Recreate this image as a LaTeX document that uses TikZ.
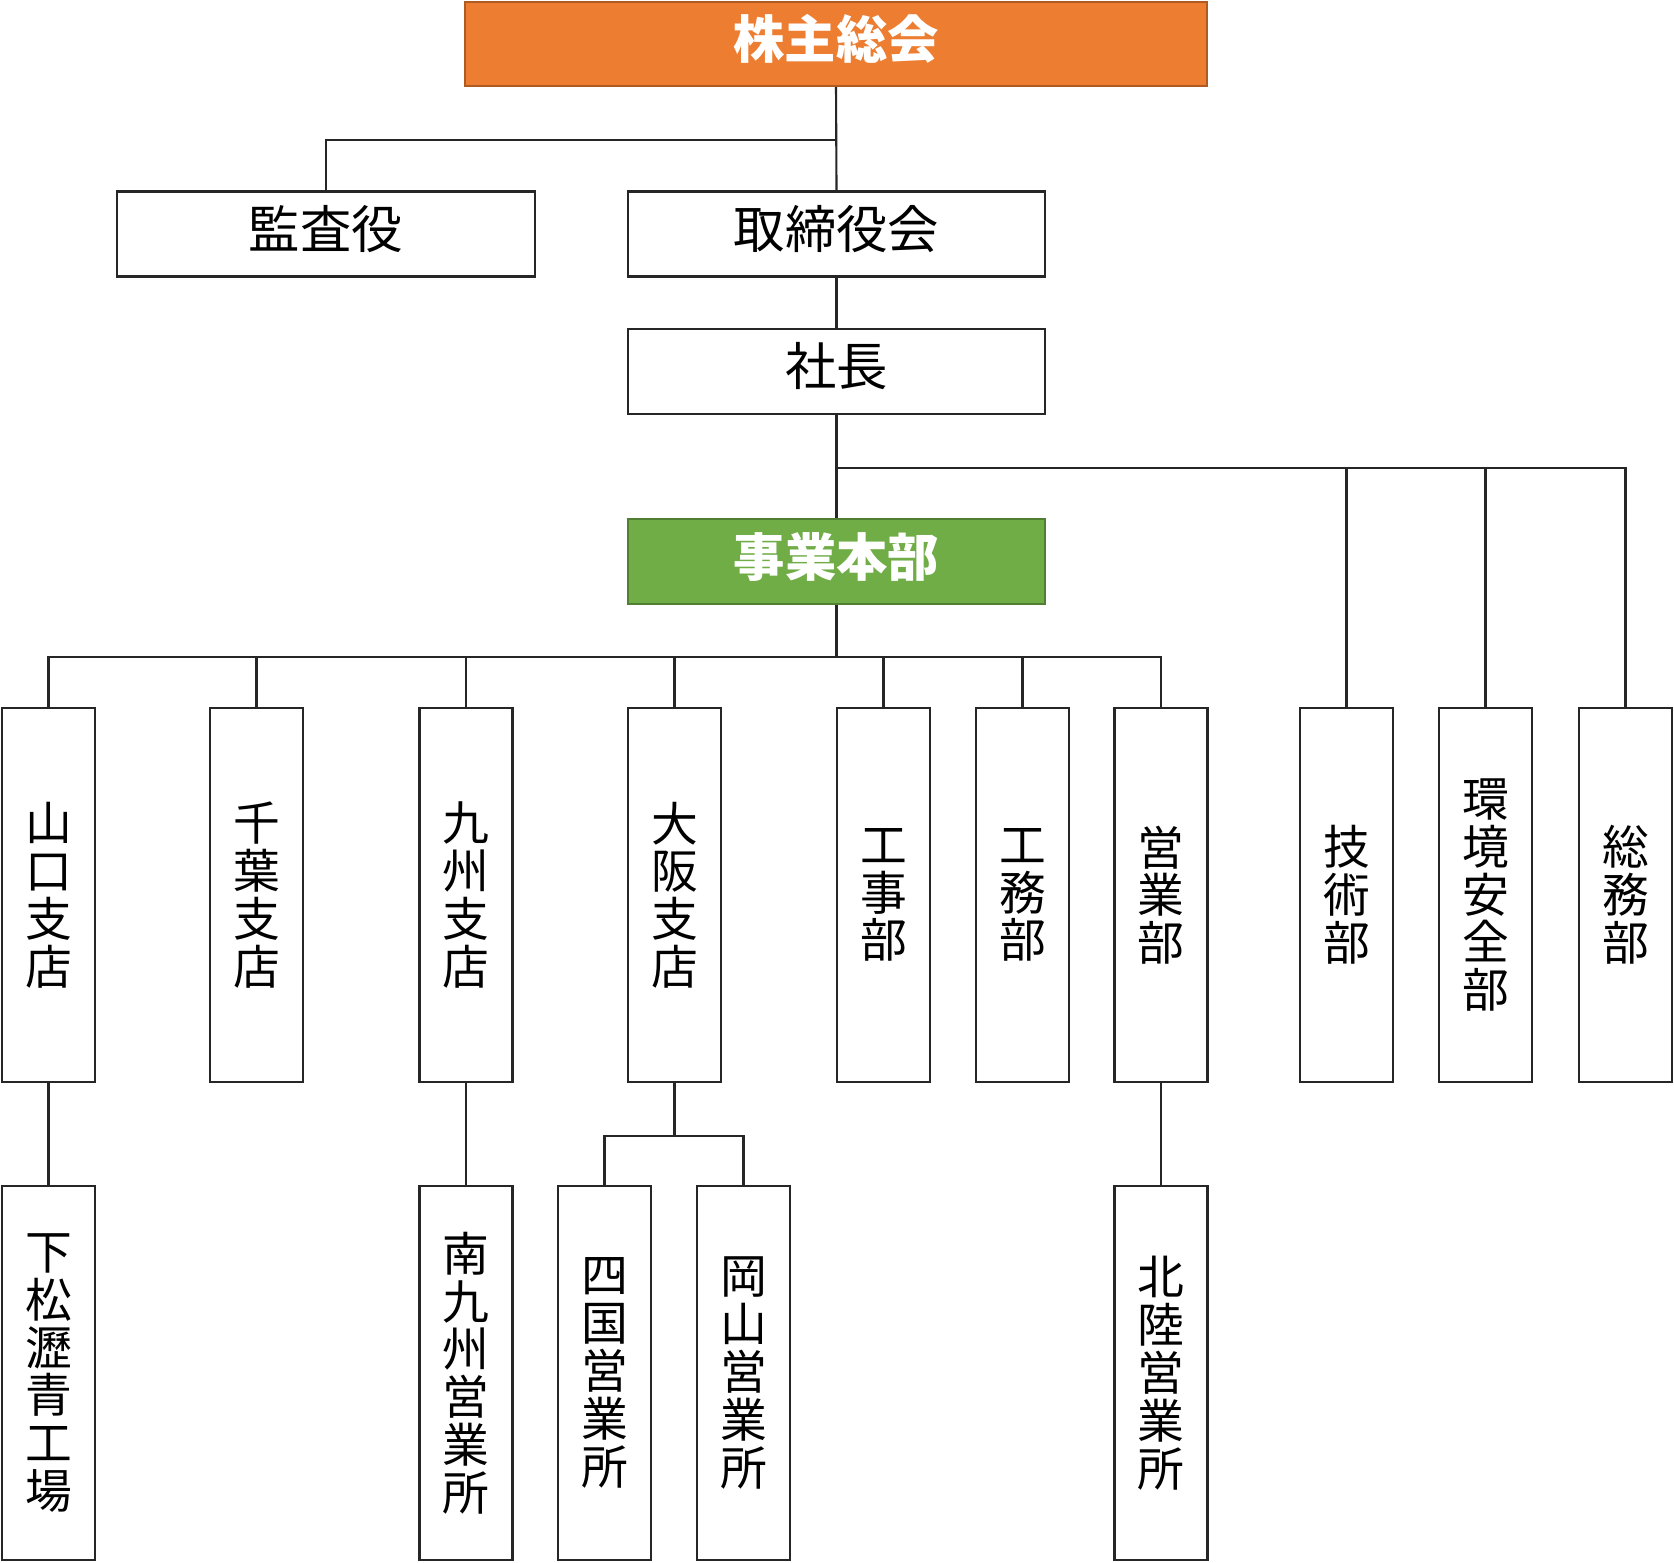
\documentclass[tikz,border=0pt]{standalone}
\usepackage{fontspec}
\newfontfamily\jpfont{Noto Sans CJK JP}
\usepackage{xcolor}
\usepackage{tikz}
\usetikzlibrary{positioning}
\definecolor{agmFill}{HTML}{ED7D31}
\definecolor{agmEdge}{HTML}{AE5A21}
\definecolor{hqFill}{HTML}{70AD47}
\definecolor{hqEdge}{HTML}{507E32}
\tikzset{
  unit/.style = {rectangle, draw=black!85, line width=0.6pt, fill=white, inner sep=0pt, text depth=0.15cm, minimum width=4.17cm, minimum height=0.85cm, font=\jpfont\fontsize{14.6}{16}\selectfont},
  unitv/.style = {rectangle, draw=black!85, line width=0.6pt, fill=white, inner sep=0pt, minimum width=0.93cm, minimum height=3.74cm, align=center, font=\jpfont\fontsize{13.3}{13.6}\selectfont},
  wire/.style = {black!85, line width=0.6pt},
}

\begin{document}
\begin{tikzpicture}[x=0.01cm,y=-0.01cm]
  \useasboundingbox (0,0) rectangle (1674,1562);

  \node[unit, fill=agmFill, draw=agmEdge, text=white, minimum width=7.42cm, minimum height=0.84cm, font=\jpfont\bfseries\fontsize{14.6}{16}\selectfont] (agm) at (836, 44) {株主総会};
  \node[unit] (kansa) at (326, 234) {監査役};
  \node[unit] (board) at (836.5, 234) {取締役会};
  \node[unit] (pres) at (836.5, 371.5) {社長};
  \node[unit, fill=hqFill, draw=hqEdge, text=white, font=\jpfont\bfseries\fontsize{14.6}{16}\selectfont] (hq) at (836.5, 561.5) {事業本部};

  \foreach \n/\t/\x in {
    yamaguchi/{山\\口\\支\\店}/48.5,
    chiba/{千\\葉\\支\\店}/256.5,
    kyushu/{九\\州\\支\\店}/466,
    osaka/{大\\阪\\支\\店}/674.5,
    kouji/{工\\事\\部}/883.5,
    koumu/{工\\務\\部}/1022.5,
    eigyo/{営\\業\\部}/1161,
    gijutsu/{技\\術\\部}/1346.5,
    kankyo/{環\\境\\安\\全\\部}/1485.5,
    soumu/{総\\務\\部}/1625.5
  }{
    \node[unitv] (\n) at (\x, 895) {\t};
  }
  \foreach \n/\t/\x in {
    kudamatsu/{下\\松\\瀝\\青\\工\\場}/48.5,
    minamikyushu/{南\\九\\州\\営\\業\\所}/466,
    shikoku/{四\\国\\営\\業\\所}/604.5,
    okayama/{岡\\山\\営\\業\\所}/743.5,
    hokuriku/{北\\陸\\営\\業\\所}/1161
  }{
    \node[unitv] (\n) at (\x, 1373) {\t};
  }

  \draw[wire] (agm.south) -- (board.north);
  \draw[wire] (agm.south) -- ++(0,52.5) -| (kansa.north);
  \draw[wire] (board.south) -- (pres.north);
  \draw[wire] (pres.south) -- (hq.north);
  \foreach \n in {gijutsu,kankyo,soumu}
    \draw[wire] (pres.south) -- ++(0,52.5) -| (\n.north);
  \foreach \n in {yamaguchi,chiba,kyushu,osaka,kouji,koumu,eigyo}
    \draw[wire] (hq.south) -- ++(0,51.5) -| (\n.north);
  \draw[wire] (yamaguchi.south) -- (kudamatsu.north);
  \draw[wire] (kyushu.south) -- (minamikyushu.north);
  \draw[wire] (eigyo.south) -- (hokuriku.north);
  \foreach \n in {shikoku,okayama}
    \draw[wire] (osaka.south) -- ++(0,52.5) -| (\n.north);
\end{tikzpicture}
\end{document}
